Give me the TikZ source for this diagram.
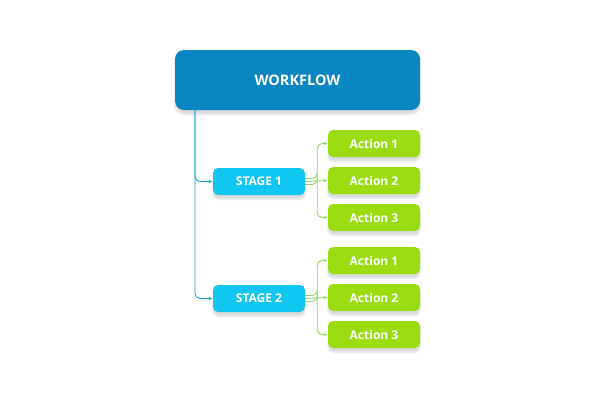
\documentclass[tikz,border=0pt]{standalone}
\usepackage{fontspec}
\setmainfont{Open Sans}
\usetikzlibrary{arrows.meta,shadows.blur}
\definecolor{wf}{HTML}{0A86C2}
\definecolor{st}{HTML}{12C6F2}
\definecolor{ac}{HTML}{9ADC10}
\definecolor{acl}{HTML}{8FD86A}
\begin{document}
\begin{tikzpicture}[x=1pt,y=-1pt,
  box/.style={rounded corners=5pt,text=white,inner sep=0pt,blur shadow={shadow blur steps=5,shadow xshift=0pt,shadow yshift=-4pt,shadow opacity=15}},
  stage/.style={box,fill=st,minimum width=92pt,minimum height=27pt,font=\fontsize{12}{14}\selectfont\bfseries},
  act/.style={box,fill=ac,minimum width=92pt,minimum height=27pt,font=\fontsize{12}{14}\selectfont\bfseries},
  sline/.style={draw=wf!60!st,line width=0.9pt,-{Latex[length=4pt,width=3.5pt]}},
  aline/.style={draw=acl,line width=0.9pt,rounded corners=5pt,-{Latex[length=4pt,width=3.5pt]}}]
\useasboundingbox (0,0) rectangle (600,400);
\node[box,fill=wf,minimum width=245pt,minimum height=60pt,rounded corners=9pt,font=\fontsize{14.5}{17}\selectfont\bfseries] (w) at (297.5,80) {WORKFLOW};
\node[stage] (s1) at (259,181.5) {STAGE 1};
\node[stage] (s2) at (259,298.5) {STAGE 2};
\foreach \g/\s/\y in {a/s1/143.5,b/s2/260.5}{
  \node[act] (\g1) at (374,\y) {Action 1};
  \node[act] (\g2) at (374,\y+37) {Action 2};
  \node[act] (\g3) at (374,\y+74) {Action 3};
  \draw[aline] ([yshift=-3pt]\s.east) -| ++(12,0) |- (\g1.west);
  \draw[aline] (\s.east) -- (\g2.west);
  \draw[aline] ([yshift=3pt]\s.east) -| ++(12,0) |- (\g3.west);
}
\coordinate (v) at (195,110);
\draw[sline,rounded corners=5pt] (v) |- (s1.west);
\draw[sline,rounded corners=5pt] (v) |- (s2.west);
\end{tikzpicture}
\end{document}
